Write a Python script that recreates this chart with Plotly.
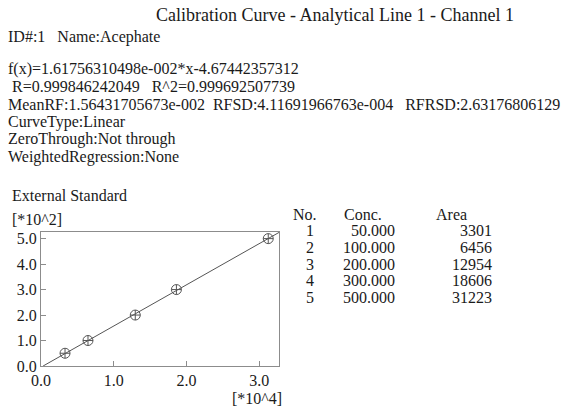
import plotly.graph_objects as go

# ---- data ----
conc = [50.000, 100.000, 200.000, 300.000, 500.000]
area = [3301, 6456, 12954, 18606, 31223]
point_no = [1, 2, 3, 4, 5]
slope = 1.61756310498e-002
intercept = -4.67442357312
x_tick_vals = [0, 1, 2, 3]
y_tick_vals = [0, 1, 2, 3, 4, 5]

title_text = "Calibration Curve - Analytical Line 1 - Channel 1"
info_lines = [
    "f(x)=1.61756310498e-002*x-4.67442357312",
    "\u00a0R=0.999846242049\u00a0\u00a0\u00a0R^2=0.999692507739",
    "MeanRF:1.56431705673e-002\u00a0\u00a0RFSD:4.11691966763e-004\u00a0\u00a0\u00a0RFRSD:2.63176806129",
    "CurveType:Linear",
    "ZeroThrough:Not through",
    "WeightedRegression:None",
]

XS = 1e4   # x axis unit [*10^4]
YS = 1e2   # y axis unit [*10^2]
X_MAX = 3.27
Y_MAX = 5.26

W, H = 587, 408
L, R, T, B = 41, 308, 232, 42
PW, PH = W - L - R, H - T - B

def px(x):
    return (x - L) / PW

def py(y):
    return (H - B - y) / PH

FONT = "Liberation Serif"
TXT = "#1a1a1a"
GRID = "#8c8c8c"
LINE = "#555555"

fig = go.Figure()

# regression line computed from the reported fit
x0 = -intercept / slope
x1 = X_MAX * XS
fig.add_trace(go.Scatter(
    x=[x0 / XS, x1 / XS],
    y=[(slope * x0 + intercept) / YS, (slope * x1 + intercept) / YS],
    mode="lines", line=dict(color=LINE, width=1), hoverinfo="skip",
))
fig.add_trace(go.Scatter(
    x=[a / XS for a in area], y=[c / YS for c in conc],
    mode="markers",
    marker=dict(symbol="circle-cross-open", size=10, color=LINE, line=dict(width=1, color=LINE)),
))

anns = []
def txt(s, x, y, anchor="left", size=16):
    anns.append(dict(text=s, x=px(x), y=py(y), xref="paper", yref="paper",
                     xanchor=anchor, yanchor="middle", showarrow=False,
                     font=dict(family=FONT, size=size, color=TXT)))

txt(title_text, 154, 15, size=18)
txt("ID#:1\u00a0\u00a0\u00a0Name:Acephate", 6, 37)
for i, s in enumerate(info_lines):
    txt(s, 6, 69 + i * 17.6)
txt("External Standard", 10, 195)
txt("[*10^2]", 10, 219)
txt("[*10^4]", 284, 398, anchor="right")

# table
txt("No.", 291, 214)
txt("Conc.", 342, 214)
txt("Area", 434, 214)
for i, (n, c, a) in enumerate(zip(point_no, conc, area)):
    yy = 230.5 + i * 16.8
    txt(str(n), 316, yy, anchor="right")
    txt(f"{c:.3f}", 397, yy, anchor="right")
    txt(str(a), 494, yy, anchor="right")

axis_common = dict(showline=True, mirror=True, linecolor=GRID, linewidth=1,
                   ticks="inside", ticklen=5, tickcolor=GRID, tickwidth=1,
                   showgrid=False, zeroline=False, tickformat=".1f",
                   tickfont=dict(family=FONT, size=16, color=TXT))

fig.update_layout(
    width=W, height=H, margin=dict(l=L, r=R, t=T, b=B, pad=0),
    paper_bgcolor="white", plot_bgcolor="white", showlegend=False,
    xaxis=dict(range=[0, X_MAX], tickvals=x_tick_vals, **axis_common),
    yaxis=dict(range=[0, Y_MAX], tickvals=y_tick_vals, **axis_common),
    annotations=anns,
)

fig.write_html("out.html")
